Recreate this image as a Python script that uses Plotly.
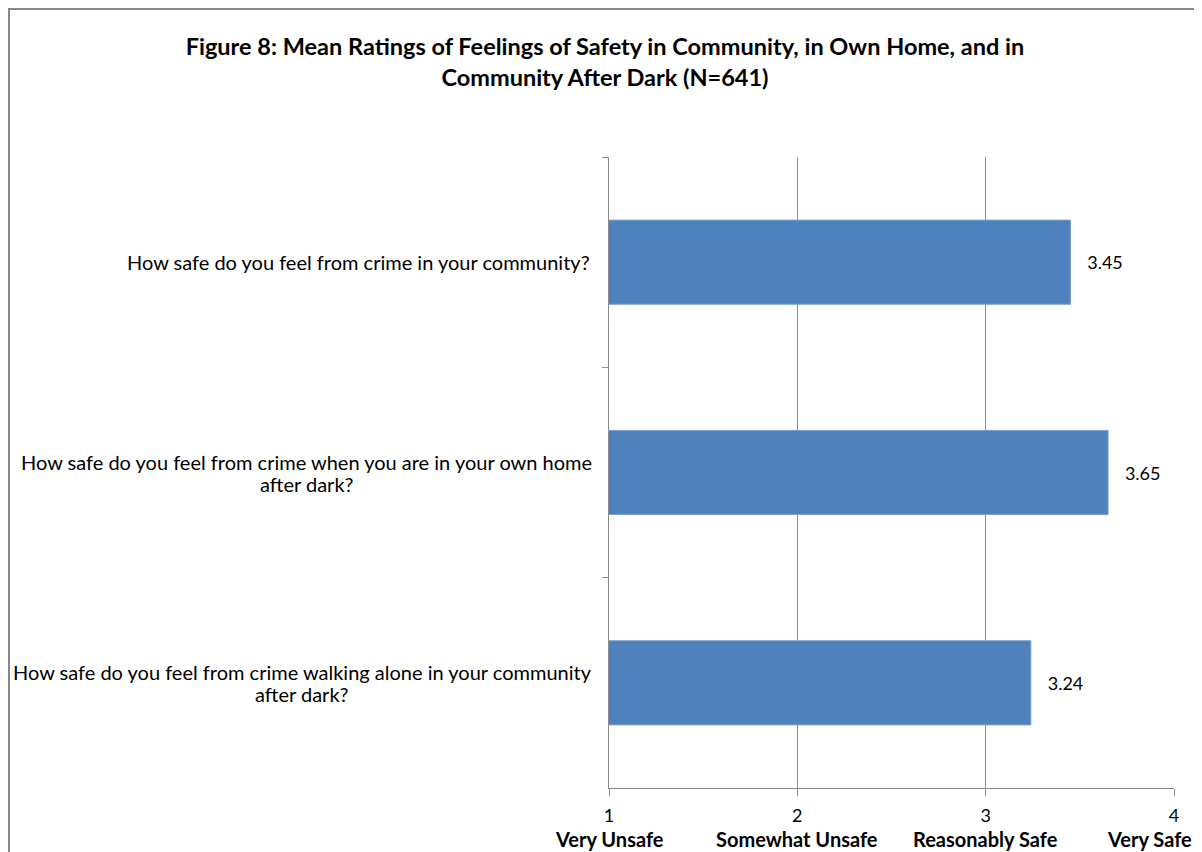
import plotly.graph_objects as go

questions = [
    "How safe do you feel from crime in your community?",
    "How safe do you feel from crime when you are in your own home<br>after dark?",
    "How safe do you feel from crime walking alone in your community<br>after dark?",
]
means = [3.45, 3.65, 3.24]
tick_vals = [1, 2, 3, 4]
tick_names = ["Very Unsafe", "Somewhat Unsafe", "Reasonably Safe", "Very Safe"]
title_text = ("<b>Figure 8: Mean Ratings of Feelings of Safety in Community, in Own Home, and in<br>"
              "Community After Dark (N=641)</b>")

FONT = "Lato, 'Open Sans', sans-serif"
GRID = "#8c8c8c"

# page body has an 8px default margin; figure is sized to fill the rest of the window
W, H = 1194, 844
L, R, T, B = 601, 28, 149, 64
pw, ph = W - L - R, H - T - B

# approximate rendered widths (px) of the widest line of each wrapped label, for centring
label_width = [None, 571, 580]

cats = [f"q{i}" for i in range(len(questions))]

fig = go.Figure()
fig.add_trace(go.Bar(
    y=cats, x=means, orientation="h", base=0,
    marker=dict(color="#4F81BD", line=dict(color="#7aa0cf", width=1)),
    text=[f"{v:.2f}" for v in means],
    texttemplate="   %{text}",
    textposition="outside",
    textfont=dict(family=FONT, size=18, color="#000000"),
    cliponaxis=False,
    hoverinfo="skip",
))

LINE_H = 22
GAP = 17
for c, q, w in zip(cats, questions, label_width):
    lines = q.split("<br>")
    n = len(lines)
    for i, line in enumerate(lines):
        if n == 1:
            anchor, xs = "right", -GAP
        else:
            anchor, xs = "center", -GAP - w / 2
        fig.add_annotation(
            x=0, xref="paper", y=c, yref="y", xanchor=anchor, yanchor="middle",
            xshift=xs, yshift=((n - 1) / 2 - i) * LINE_H,
            text=line, showarrow=False, align="center",
            font=dict(family=FONT, size=20, color="#000000"),
        )

for k, (v, name) in enumerate(zip(tick_vals, tick_names)):
    last = k == len(tick_vals) - 1
    fig.add_annotation(
        x=v, xref="x", y=0, yref="paper",
        xanchor="right" if last else "center", yanchor="middle",
        xshift=20 if last else 0, yshift=-51,
        text=f"<b>{name}</b>", showarrow=False,
        font=dict(family=FONT, size=20, color="#000000"),
    )

fig.update_layout(
    width=W, height=H,
    margin=dict(l=L, r=R, t=T, b=B, autoexpand=False),
    paper_bgcolor="white", plot_bgcolor="white",
    bargap=0.6,
    showlegend=False,
    title=dict(text=title_text, x=0.5, xref="container",
               xanchor="center", y=1 - 47 / H, yanchor="top",
               font=dict(family=FONT, size=23.5, color="#000000")),
    shapes=[dict(type="rect", xref="paper", yref="paper",
                 x0=(1 - L) / pw, x1=(W + 20 - L) / pw,
                 y0=-(B + 20) / ph, y1=(ph + T - 1) / ph,
                 line=dict(color="#878787", width=2), layer="below")],
)

fig.update_xaxes(
    range=[1, 4], tickvals=tick_vals,
    ticktext=[str(v) for v in tick_vals],
    showgrid=True, gridcolor=GRID, gridwidth=1,
    showline=True, linecolor=GRID, linewidth=1,
    ticks="outside", ticklen=7, tickcolor=GRID,
    zeroline=False, automargin=False,
    ticklabelstandoff=4,
    ticklabeloverflow="allow",
    tickfont=dict(family=FONT, size=18, color="#000000"),
)
fig.update_yaxes(
    categoryorder="array", categoryarray=cats, autorange="reversed",
    showticklabels=False, automargin=False,
    tickson="boundaries", ticks="outside", ticklen=6, tickcolor=GRID,
    showgrid=False,
    showline=True, linecolor=GRID, linewidth=1,
)

fig.write_html("out.html")
